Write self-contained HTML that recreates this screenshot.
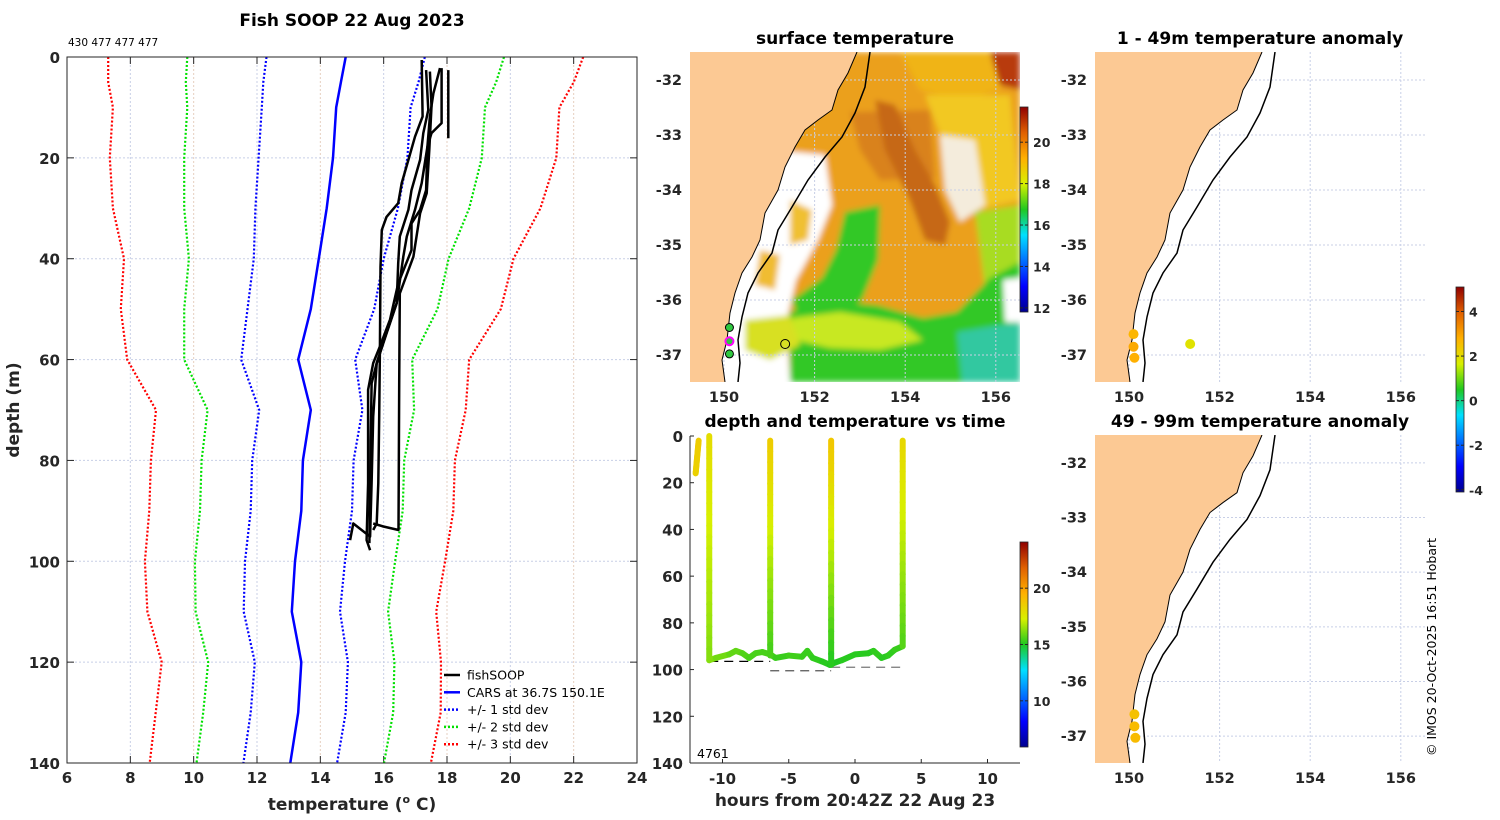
<!DOCTYPE html>
<html><head><meta charset="utf-8">
<style>
html,body{margin:0;padding:0;background:#fff;}
svg{display:block;font-family:"DejaVu Sans","Liberation Sans",sans-serif;}
.tk{font-size:15px;font-weight:bold;fill:#262626;}
.tkm{font-size:14.5px;font-weight:bold;fill:#262626;}
.cb{font-size:12.5px;font-weight:bold;fill:#262626;}
.ttl{font-size:17px;font-weight:bold;fill:#000;}
.lab{font-size:17px;font-weight:bold;fill:#262626;}
.leg{font-size:12.5px;fill:#000;}
</style></head>
<body>
<svg id="fig" width="1500" height="820" viewBox="0 0 1500 820" xmlns="http://www.w3.org/2000/svg">
<defs>
<linearGradient id="jet" x1="0" y1="1" x2="0" y2="0">
<stop offset="0" stop-color="#00008f"/><stop offset="0.125" stop-color="#0000ff"/><stop offset="0.375" stop-color="#00e0ff"/><stop offset="0.5" stop-color="#20c820"/><stop offset="0.625" stop-color="#d8f000"/><stop offset="0.75" stop-color="#ffb000"/><stop offset="0.875" stop-color="#e06000"/><stop offset="1" stop-color="#900000"/>
</linearGradient>
<clipPath id="m1clip"><rect x="690" y="52" width="330" height="330"/></clipPath>
<clipPath id="m2clip"><rect x="1095" y="52" width="330" height="330"/></clipPath>
<clipPath id="m3clip"><rect x="1095" y="435" width="330" height="328"/></clipPath>
<filter id="blur" filterUnits="userSpaceOnUse" x="680" y="40" width="350" height="350"><feGaussianBlur stdDeviation="3"/></filter>
</defs>
<g id="root"></g>
</svg>
<script>
// ===== profile panel data =====
const carsDepth = [0,5,10,20,30,40,50,60,70,80,90,100,110,120,130,140];
const carsMean  = [14.8,14.65,14.5,14.4,14.2,13.95,13.7,13.3,13.7,13.45,13.4,13.2,13.1,13.4,13.3,13.05];
const carsStd   = [2.5,2.45,2.35,2.35,2.25,2.05,2.0,1.8,1.63,1.6,1.6,1.58,1.52,1.47,1.5,1.48];
const fishTemps = [
 [17.20,17.23,16.99,16.78,16.57,16.46,16.09,15.94,15.90,15.88,15.86,15.83,15.78,15.67],
 [17.34,17.41,17.25,17.15,16.88,16.78,16.51,16.46,16.41,16.09,15.78,15.67,15.62,15.57,15.04,14.94],
 [17.46,17.51,17.44,17.36,17.15,16.94,16.51,16.49,16.47,15.99,15.67],
 [17.78,17.57,17.46,17.38,17.20,16.99,16.73,16.62,16.41,16.09,15.78,15.62,15.57,15.55],
 [17.83,17.83,17.51,17.38,17.34,17.15,16.88,16.88,16.46,16.20,15.88,15.67,15.51,15.51,15.46,15.57],
 [18.04,18.04]
];
const fishDepths = [
 [0.6,11.8,15.8,20.4,25.0,29.0,31.7,34.3,41.6,58.1,71.3,84.5,92.5,93.8],
 [2.6,10.5,15.1,20.4,26.4,30.3,35.6,40.9,48.8,54.8,60.7,71.3,84.5,95.1,92.5,95.8],
 [2.9,9.8,18.4,27.0,31.0,39.6,46.9,64.7,93.8,93.1,92.5],
 [2.2,7.2,11.8,17.8,25.0,30.3,35.6,39.6,48.8,54.8,60.7,64.7,84.5,96.4],
 [2.2,13.1,15.1,17.8,26.4,30.3,33.0,38.3,44.9,52.1,57.4,60.7,66.0,84.5,95.8,97.8],
 [2.6,16.1]
];
const xTicks = [6,8,10,12,14,16,18,20,22,24];
const yTicks = [0,20,40,60,80,100,120,140];
// ===== time panel data =====
const castHours = [-11.8,-11.0,-6.4,-1.8,3.6];
const castTop = [2,0,2,2,2];
const castBottom = [16,96,94,98,90];
const castTopTemp = [18.6,18.0,18.6,18.8,18.2];
const castBotTemp = [18.4,16.2,15.4,15.0,15.6];
const towHours = [-11,-10.5,-9.5,-9,-8.5,-8,-7.5,-7,-6.4,-6,-5,-4,-3.6,-3.2,-2.5,-1.9,-1.5,-1,0,1,1.4,2,2.5,3,3.6];
const towDepth = [96,95,93.5,92,93,95,93,92.5,93.5,95,94,94.5,92,95,96.5,98,97,96,93.5,93,92,95,94,91.5,90];
const towTemp = [16.2,16.0,15.8,15.8,15.6,15.5,15.5,15.5,15.4,15.3,15.4,15.3,15.3,15.2,15.1,15.0,15.0,15.1,15.1,15.1,15.2,15.1,15.2,15.3,15.4];
const hourTicks = [-10,-5,0,5,10];
const tDepthTicks = [0,20,40,60,80,100,120,140];
// ===== anomaly dots =====
const anomLon1 = [150.1,150.1,150.12,151.35];
const anomLat1 = [-36.62,-36.85,-37.05,-36.8];
const anomVal1 = [2.7,2.9,2.8,1.9];
const anomLon2 = [150.12,150.12,150.14];
const anomLat2 = [-36.6,-36.82,-37.03];
const anomVal2 = [2.5,2.6,2.6];
const sstLon = [150.12,150.12,150.12,151.35];
const sstLat = [-36.5,-36.75,-36.98,-36.8];
const lonTicks=[150,152,154,156], latTicks=[-32,-33,-34,-35,-36,-37];

const NS='http://www.w3.org/2000/svg';
const root=document.getElementById('root');
function el(tag,attrs,parent){const e=document.createElementNS(NS,tag);for(const k in attrs)e.setAttribute(k,attrs[k]);(parent||root).appendChild(e);return e;}
function txt(s,x,y,cls,anchor,parent){const t=el('text',{x:x,y:y,class:cls,'text-anchor':anchor||'middle'},parent);t.textContent=s;return t;}
const cmStops=[[0,[0,0,143]],[0.125,[0,0,255]],[0.375,[0,224,255]],[0.5,[32,200,32]],[0.625,[216,240,0]],[0.75,[255,176,0]],[0.875,[224,96,0]],[1,[144,0,0]]];
function jet(v,lo,hi){let t=(v-lo)/(hi-lo);t=Math.max(0,Math.min(1,t));
 for(let i=0;i<cmStops.length-1;i++){const a=cmStops[i],b=cmStops[i+1];if(t<=b[0]){const f=(t-a[0])/(b[0]-a[0]);const c=a[1].map((x,k)=>Math.round(x+(b[1][k]-x)*f));return 'rgb('+c.join(',')+')';}}
 return 'rgb(144,0,0)';}

// ===== Profile panel =====
const P={x0:67,x1:637,y0:57,y1:763,tmin:6,tmax:24,dmax:140};
const px=t=>P.x0+(t-P.tmin)/(P.tmax-P.tmin)*(P.x1-P.x0);
const py=d=>P.y0+d/P.dmax*(P.y1-P.y0);
const gP=el('g',{});


xTicks.forEach((t,i)=>{ if(i>0&&i<xTicks.length-1){const l=el('line',{x1:px(t),x2:px(t),y1:P.y0,y2:P.y1,stroke:i%2?'#c8cfe6':'#e6cfc0','stroke-width':1,'stroke-dasharray':'2,2'},gP);}
 el('line',{x1:px(t),x2:px(t),y1:P.y1,y2:P.y1-7,stroke:'#262626'},gP);el('line',{x1:px(t),x2:px(t),y1:P.y0,y2:P.y0+7,stroke:'#262626'},gP);
 const lb=txt(String(t),px(t),783,'tk','middle',gP);});
yTicks.forEach((d,i)=>{ if(i>0&&i<yTicks.length-1){const l=el('line',{x1:P.x0,x2:P.x1,y1:py(d),y2:py(d),stroke:'#c8cfe6','stroke-width':1,'stroke-dasharray':'2,2'},gP);}
 el('line',{x1:P.x0,x2:P.x0+7,y1:py(d),y2:py(d),stroke:'#262626'},gP);el('line',{x1:P.x1,x2:P.x1-7,y1:py(d),y2:py(d),stroke:'#262626'},gP);
 const lb=txt(String(d),60,py(d)+6,'tk','end',gP);});
function line(pts,stroke,w,dash,name){const p=el('polyline',{points:pts.map(q=>q[0].toFixed(1)+','+q[1].toFixed(1)).join(' '),fill:'none',stroke:stroke,'stroke-width':w,'stroke-linejoin':'round'},gP);if(dash)p.setAttribute('stroke-dasharray',dash);return p;}
[[3,'#ff0000'],[2,'#00e000'],[1,'#0000ff']].forEach(([k,c])=>{
 line(carsDepth.map((d,i)=>[px(carsMean[i]-k*carsStd[i]),py(d)]),c,2.2,'2,2','std-'+k+'-left');
 line(carsDepth.map((d,i)=>[px(carsMean[i]+k*carsStd[i]),py(d)]),c,2.2,'2,2','std-'+k+'-right');});
line(carsDepth.map((d,i)=>[px(carsMean[i]),py(d)]),'#0000ff',2.5,null,'cars-mean-line');
fishTemps.forEach((ts,j)=>line(ts.map((t,i)=>[px(t),py(fishDepths[j][i])]),'#000',2.5,null,'fishsoop-profile-'+(j+1)));
el('rect',{x:P.x0,y:P.y0,width:P.x1-P.x0,height:P.y1-P.y0,fill:'none',stroke:'#262626','stroke-width':1},gP);
let t1=txt('Fish SOOP 22 Aug 2023',352,26,'ttl','middle',gP);
let t2=el('text',{x:68,y:46,'font-size':'10.5','fill':'#000'},gP);t2.textContent='430 477 477 477';
let xl=el('text',{x:352,y:810,class:'lab','text-anchor':'middle'},gP);xl.innerHTML='temperature (<tspan font-size="11" dy="-7">o</tspan><tspan dy="7"> C)</tspan>';
let yl=txt('depth (m)',0,0,'lab','middle',gP);yl.setAttribute('transform','translate(19,410) rotate(-90)');
const leg=el('g',{},gP);
[['fishSOOP','#000',null],['CARS at 36.7S 150.1E','#0000ff',null],['+/- 1 std dev','#0000ff','2,2'],['+/- 2 std dev','#00e000','2,2'],['+/- 3 std dev','#ff0000','2,2']].forEach((e,i)=>{
 const y=675+i*17.3;const g=el('g',{},leg);
 const l=el('line',{x1:444,x2:460,y1:y,y2:y,stroke:e[1],'stroke-width':2.5},g);if(e[2])l.setAttribute('stroke-dasharray',e[2]);
 txt(e[0],467,y+4.5,'leg','start',g);});

// ===== Map helpers =====
const coastPx=[[167,0],[158,21],[148,38],[142,58],[128,68],[115,78],[105,95],[95,115],[88,138],[75,161],[70,188],[62,205],[52,221],[45,241],[40,261],[37,288],[32,308],[35,330]];
const isoPx=[[180,0],[175,35],[165,61],[152,85],[135,105],[118,128],[102,155],[88,178],[82,201],[68,221],[58,241],[52,265],[48,288],[50,311],[48,330]];
function mapBase(ox,oy,h,clip,name){
 const g=el('g',{'clip-path':'url(#'+clip+')'});
 return g;}
function coast(g,ox,oy,h){
 const pts=coastPx.map(p=>[ox+p[0],oy+p[1]*h/330]);
 const land=el('polygon',{points:[[ox,oy]].concat(pts,[[ox,oy+h]]).map(p=>p.join(',')).join(' '),fill:'#fcc994',stroke:'none'},g);
 const c=el('polyline',{points:pts.map(p=>p.join(',')).join(' '),fill:'none',stroke:'#000','stroke-width':1},g);
 const iso=el('polyline',{points:isoPx.map(p=>[ox+p[0],oy+p[1]*h/330].join(',')).join(' '),fill:'none',stroke:'#000','stroke-width':1.5},g);}
function mapProj(ox,oy,h){const lonPx=45.3, latPx=55*h/330;
 return {x:lon=>ox+34+(lon-150)*lonPx, y:lat=>oy+28*h/330+(-32-lat)*latPx};}
function grid(g,pr,ox,oy,h){
 lonTicks.forEach(l=>el('line',{x1:pr.x(l),x2:pr.x(l),y1:oy,y2:oy+h,stroke:'#c8cfe6','stroke-dasharray':'2,2'},g));
 latTicks.forEach(l=>el('line',{x1:ox,x2:ox+330,y1:pr.y(l),y2:pr.y(l),stroke:'#c8cfe6','stroke-dasharray':'2,2'},g));}
function mapLabels(pr,ox,oy,h,lonY){
 latTicks.forEach(l=>{const t=txt(String(l),ox-8,pr.y(l)+5,'tkm','end');});
 lonTicks.forEach(l=>{const t=txt(String(l),pr.x(l),lonY,'tkm','middle');});}
function colorbar(x,y0,y1,vmin,vmax,ticks,name){
 const g=el('g',{});
 el('rect',{x:x,y:y0,width:8,height:y1-y0,fill:'url(#jet)',stroke:'#262626','stroke-width':0.8},g);
 ticks.forEach(v=>{const y=y1-(v-vmin)/(vmax-vmin)*(y1-y0);el('line',{x1:x,x2:x+3,y1:y,y2:y,stroke:'#262626'},g);el('line',{x1:x+8,x2:x+5,y1:y,y2:y,stroke:'#262626'},g);txt(String(v),x+13,y+5,'cb','start',g);});}

// ===== Map 1: SST =====
const m1=mapBase(690,52,330,'m1clip','sst-map');
const pr1=mapProj(690,52,330);
const sst=el('g',{filter:'url(#blur)'},m1);
[
 ['#eba01e','690,52 1020,52 1020,382 690,382'],
 ['#f0b418','900,52 990,52 1000,90 960,100 920,90'],
 ['#f2c820','925,95 1010,95 1020,200 975,210 950,160'],
 ['#d9821c','850,112 930,110 935,178 880,180 860,150'],
 ['#c66818','875,100 895,105 915,150 935,185 950,222 945,245 925,240 910,200 885,150'],
 ['#b83a10','990,52 1020,52 1020,90 1000,85'],
 ['#f4ecdc','940,135 975,140 985,205 960,222 945,190'],
 ['#a8dc20','975,212 1020,205 1020,285 985,290'],
 ['#30c828','845,212 880,205 878,260 862,300 835,318 800,322 792,300 822,278 836,250'],
 ['#30c828','790,312 840,302 877,305 923,318 957,312 990,278 1020,262 1020,382 790,382'],
 ['#c8e820','792,318 840,312 900,322 923,340 880,350 830,348 795,340'],
 ['#32c8a0','957,332 1020,322 1020,382 962,382'],
 ['#ffffff','1003,280 1020,278 1020,322 1005,322'],
 ['#ffffff','772,150 825,155 832,205 818,240 796,280 786,322 790,382 715,382 725,300 750,220'],
 ['#f0c030','790,200 812,210 808,240 790,245'],
 ['#d8e020','745,320 790,315 800,345 770,360 745,350'],
 ['#f0bc30','760,250 780,255 775,290 755,285']
].forEach(s=>el('polygon',{points:s[1],fill:s[0]},sst));
grid(m1,pr1,690,52,330);
coast(m1,690,52,330);
sstLon.forEach((lon,i)=>{const c=el('circle',{cx:pr1.x(lon),cy:pr1.y(sstLat[i]),r:i==3?4.5:4,fill:i==3?'none':'#30c840',stroke:i==1?'#ff00ff':'#000','stroke-width':i==1?2:1},m1);});
mapLabels(pr1,690,52,330,402);
let mt=txt('surface temperature',855,44,'ttl');
colorbar(1020,107,312,11.8,21.7,[12,14,16,18,20],'sst-colorbar');

// ===== Map 2 / 3: anomalies =====
function anomMap(ox,oy,h,clip,name,lons,lats,vals,title,ty,lonY){
 const g=mapBase(ox,oy,h,clip,name);const pr=mapProj(ox,oy,h);
 el('rect',{x:ox,y:oy,width:330,height:h,fill:'#fff'},g);
 grid(g,pr,ox,oy,h);coast(g,ox,oy,h);
 lons.forEach((lon,i)=>{const c=el('circle',{cx:pr.x(lon),cy:pr.y(lats[i]),r:5,fill:jet(vals[i],-4.1,5.1)},g);});
 mapLabels(pr,ox,oy,h,lonY);
 const t=txt(title,1260,ty,'ttl');}
anomMap(1095,52,330,'m2clip','anomaly-1-49m-map',anomLon1,anomLat1,anomVal1,'1 - 49m temperature anomaly',44,402);
anomMap(1095,435,328,'m3clip','anomaly-49-99m-map',anomLon2,anomLat2,anomVal2,'49 - 99m temperature anomaly',427,783);
colorbar(1456,287,492,-4.1,5.1,[-4,-2,0,2,4],'anomaly-colorbar');

// ===== Time panel =====
const T={x0:690,x1:1020,y0:436,y1:763};
const tx=h=>855+h*13.25;
const ty=d=>T.y0+d/140*(T.y1-T.y0);
const gT=el('g',{});
[[castHours[1],castHours[2],96.5,'#000'],[castHours[2],castHours[3],100.5,'#555'],[castHours[3],castHours[4],99,'#777']].forEach(s=>{const l=el('line',{x1:tx(s[0]),x2:tx(s[1]),y1:ty(s[2]),y2:ty(s[2]),stroke:s[3],'stroke-width':1.3,'stroke-dasharray':'9,6'},gT);});
for(let i=0;i<towHours.length-1;i++){const l=el('line',{x1:tx(towHours[i]),x2:tx(towHours[i+1]),y1:ty(towDepth[i]),y2:ty(towDepth[i+1]),stroke:jet(towTemp[i],5.9,24.1),'stroke-width':6,'stroke-linecap':'round'},gT);}
castHours.forEach((h,i)=>{const n=20;for(let k=0;k<n;k++){const d0=castTop[i]+(castBottom[i]-castTop[i])*k/n,d1=castTop[i]+(castBottom[i]-castTop[i])*(k+1)/n;
 const tm=castTopTemp[i]+(castBotTemp[i]-castTopTemp[i])*(k+0.5)/n;
 const x0=tx(h)+(i==0?-(k/n)*3:0),x1=tx(h)+(i==0?-((k+1)/n)*3:0);
 const l=el('line',{x1:x0,x2:x1,y1:ty(d0),y2:ty(d1),stroke:jet(tm,5.9,24.1),'stroke-width':6,'stroke-linecap':'round'},gT);}});
el('line',{x1:T.x0,x2:T.x0,y1:T.y0,y2:T.y1,stroke:'#262626'},gT);
el('line',{x1:T.x0,x2:T.x1,y1:T.y1,y2:T.y1,stroke:'#262626'},gT);
hourTicks.forEach(h=>{el('line',{x1:tx(h),x2:tx(h),y1:T.y1,y2:T.y1-4,stroke:'#262626'},gT);const t=txt(String(h),tx(h),784,'tk','middle',gT);});
tDepthTicks.forEach(d=>{el('line',{x1:T.x0,x2:T.x0+4,y1:ty(d),y2:ty(d),stroke:'#262626'},gT);const t=txt(String(d),683,ty(d)+6,'tk','end',gT);});
let tt=txt('depth and temperature vs time',855,427,'ttl','middle',gT);
let txl=txt('hours from 20:42Z 22 Aug 23',855,806,'lab','middle',gT);
let tid=el('text',{x:697,y:758,'font-size':'12.5',fill:'#000'},gT);tid.textContent='4761';
colorbar(1020,542,747,5.9,24.1,[10,15,20],'time-colorbar');
let cp=txt('© IMOS 20-Oct-2025 16:51 Hobart',0,0,'leg','middle');cp.setAttribute('transform','translate(1436,647) rotate(-90)');cp.setAttribute('font-size','12');
</script>
</body></html>
